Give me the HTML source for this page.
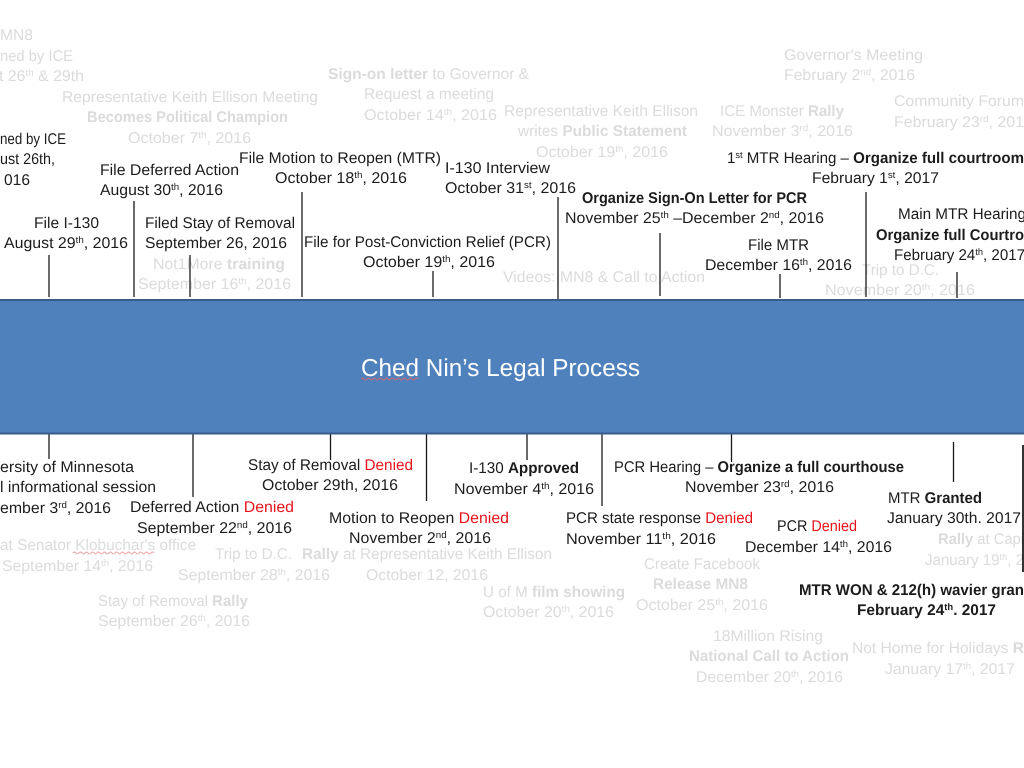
<!DOCTYPE html>
<html><head><meta charset="utf-8"><title>Ched Nin's Legal Process</title>
<style>
html,body{margin:0;padding:0;background:#fff;width:1024px;height:768px;overflow:hidden}
svg{display:block}
text{font-family:"Liberation Sans",sans-serif;font-size:15.5px;fill:#1c1c1c;white-space:pre;text-rendering:geometricPrecision}
.g,.g tspan{fill:#dbdbdb}
.b{font-weight:bold}
tspan.r{fill:#e8141c}
tspan.s{font-size:9.500px}
</style></head><body>
<svg width="1024" height="768" viewBox="0 0 1024 768" xmlns="http://www.w3.org/2000/svg">
<rect width="1024" height="768" fill="#fff"/>
<g class="g">
<text class="g" x="0" y="40" textLength="33" lengthAdjust="spacingAndGlyphs">MN8</text>
<text class="g" x="0" y="61" textLength="73" lengthAdjust="spacingAndGlyphs">ned by ICE</text>
<text class="g" x="-1" y="81" textLength="85" lengthAdjust="spacingAndGlyphs">t 26<tspan class="s" dy="-5">th</tspan><tspan dy="5"> &amp; 29th</tspan></text>
<text class="g" x="62" y="102" textLength="256" lengthAdjust="spacingAndGlyphs">Representative Keith Ellison Meeting</text>
<text class="g b" x="87" y="122" textLength="201" lengthAdjust="spacingAndGlyphs">Becomes Political Champion</text>
<text class="g" x="128" y="143" textLength="123" lengthAdjust="spacingAndGlyphs">October 7<tspan class="s" dy="-5">th</tspan><tspan dy="5">, 2016</tspan></text>
<text class="g" x="328" y="79" textLength="201" lengthAdjust="spacingAndGlyphs"><tspan class="b">Sign-on letter</tspan> to Governor &amp;</text>
<text class="g" x="364" y="99" textLength="130" lengthAdjust="spacingAndGlyphs">Request a meeting</text>
<text class="g" x="364" y="120" textLength="133" lengthAdjust="spacingAndGlyphs">October 14<tspan class="s" dy="-5">th</tspan><tspan dy="5">, 2016</tspan></text>
<text class="g" x="504" y="116" textLength="194" lengthAdjust="spacingAndGlyphs">Representative Keith Ellison</text>
<text class="g" x="518" y="136" textLength="169" lengthAdjust="spacingAndGlyphs">writes <tspan class="b">Public Statement</tspan></text>
<text class="g" x="536" y="157" textLength="132" lengthAdjust="spacingAndGlyphs">October 19<tspan class="s" dy="-5">th</tspan><tspan dy="5">, 2016</tspan></text>
<text class="g" x="720" y="116" textLength="124" lengthAdjust="spacingAndGlyphs">ICE Monster <tspan class="b">Rally</tspan></text>
<text class="g" x="712" y="136" textLength="141" lengthAdjust="spacingAndGlyphs">November 3<tspan class="s" dy="-5">rd</tspan><tspan dy="5">, 2016</tspan></text>
<text class="g" x="784" y="60" textLength="139" lengthAdjust="spacingAndGlyphs">Governor's Meeting</text>
<text class="g" x="784" y="80" textLength="131" lengthAdjust="spacingAndGlyphs">February 2<tspan class="s" dy="-5">nd</tspan><tspan dy="5">, 2016</tspan></text>
<text class="g" x="894" y="106" textLength="130" lengthAdjust="spacingAndGlyphs">Community Forum</text>
<text class="g" x="894" y="127" textLength="130" lengthAdjust="spacingAndGlyphs">February 23<tspan class="s" dy="-5">rd</tspan><tspan dy="5">, 201</tspan></text>
<text class="g" x="153" y="269" textLength="132" lengthAdjust="spacingAndGlyphs">Not1More <tspan class="b">training</tspan></text>
<text class="g" x="138" y="289" textLength="153" lengthAdjust="spacingAndGlyphs">September 16<tspan class="s" dy="-5">th</tspan><tspan dy="5">, 2016</tspan></text>
<text class="g" x="503" y="282" textLength="202" lengthAdjust="spacingAndGlyphs">Videos: MN8 &amp; Call to Action</text>
<text class="g" x="862" y="275" textLength="77" lengthAdjust="spacingAndGlyphs">Trip to D.C.</text>
<text class="g" x="825" y="295" textLength="150" lengthAdjust="spacingAndGlyphs">November 20<tspan class="s" dy="-5">th</tspan><tspan dy="5">, 2016</tspan></text>

<text class="g" x="0" y="550" textLength="196" lengthAdjust="spacingAndGlyphs">at Senator Klobuchar's office</text>
<text class="g" x="2" y="571" textLength="151" lengthAdjust="spacingAndGlyphs">September 14<tspan class="s" dy="-5">th</tspan><tspan dy="5">, 2016</tspan></text>
<text class="g" x="215" y="559" textLength="77" lengthAdjust="spacingAndGlyphs">Trip to D.C.</text>
<text class="g" x="302" y="559" textLength="250" lengthAdjust="spacingAndGlyphs"><tspan class="b">Rally</tspan> at Representative Keith Ellison</text>
<text class="g" x="178" y="580" textLength="152" lengthAdjust="spacingAndGlyphs">September 28<tspan class="s" dy="-5">th</tspan><tspan dy="5">, 2016</tspan></text>
<text class="g" x="366" y="580" textLength="122" lengthAdjust="spacingAndGlyphs">October 12, 2016</text>
<text class="g" x="98" y="606" textLength="150" lengthAdjust="spacingAndGlyphs">Stay of Removal <tspan class="b">Rally</tspan></text>
<text class="g" x="98" y="626" textLength="152" lengthAdjust="spacingAndGlyphs">September 26<tspan class="s" dy="-5">th</tspan><tspan dy="5">, 2016</tspan></text>
<text class="g" x="483" y="597" textLength="142" lengthAdjust="spacingAndGlyphs">U of M <tspan class="b">film showing</tspan></text>
<text class="g" x="483" y="617" textLength="131" lengthAdjust="spacingAndGlyphs">October 20<tspan class="s" dy="-5">th</tspan><tspan dy="5">, 2016</tspan></text>
<text class="g" x="644" y="569" textLength="116" lengthAdjust="spacingAndGlyphs">Create Facebook</text>
<text class="g b" x="653" y="589" textLength="95" lengthAdjust="spacingAndGlyphs">Release MN8</text>
<text class="g" x="636" y="610" textLength="132" lengthAdjust="spacingAndGlyphs">October 25<tspan class="s" dy="-5">th</tspan><tspan dy="5">, 2016</tspan></text>
<text class="g" x="713" y="641" textLength="110" lengthAdjust="spacingAndGlyphs">18Million Rising</text>
<text class="g b" x="689" y="661" textLength="160" lengthAdjust="spacingAndGlyphs">National Call to Action</text>
<text class="g" x="696" y="682" textLength="147" lengthAdjust="spacingAndGlyphs">December 20<tspan class="s" dy="-5">th</tspan><tspan dy="5">, 2016</tspan></text>
<text class="g" x="852" y="653" textLength="172" lengthAdjust="spacingAndGlyphs">Not Home for Holidays <tspan class="b">R</tspan></text>
<text class="g" x="885" y="674" textLength="130" lengthAdjust="spacingAndGlyphs">January 17<tspan class="s" dy="-5">th</tspan><tspan dy="5">, 2017</tspan></text>
<text class="g" x="938" y="544" textLength="86" lengthAdjust="spacingAndGlyphs"><tspan class="b">Rally</tspan> at Capi</text>
<text class="g" x="925" y="565" textLength="99" lengthAdjust="spacingAndGlyphs">January 19<tspan class="s" dy="-5">th</tspan><tspan dy="5">, 2</tspan></text>
</g>
<path d="M73 553q1.500 -2 3 0t3 0t3 0t3 0t3 0t3 0t3 0t3 0t3 0t3 0t3 0t3 0t3 0t3 0t3 0t3 0t3 0t3 0t3 0t3 0t3 0t3 0t3 0t3 0t3 0t3 0t3 0" fill="none" stroke="#eba0a0" stroke-width="1"/>

<g stroke="#1a1a1a" stroke-width="1.300" fill="none">
<path d="M49 255V297M134 201V297M190 255V297M302 192V297M433 271V297M558 197V300M660 233V296M780 274V298M866 192V297M957 272V298"/>
<path d="M49 434V459M193 434V497M330.500 434V460M426.500 431V501M527 434V460M602 434V506M731.500 434V462M953.500 442V482"/>
<path d="M1023 445V572" stroke-width="1.600" stroke="#000"/>
</g>

<rect x="-2" y="300" width="1028" height="133.500" fill="#4f81bd" stroke="#385d8a" stroke-width="2"/>
<text x="361" y="376" textLength="279" lengthAdjust="spacingAndGlyphs" style="font-size:24.500px;fill:#fff">Ched Nin’s Legal Process</text>
<path d="M361 379q1.500 -2 3 0t3 0t3 0t3 0t3 0t3 0t3 0t3 0t3 0t3 0t3 0t3 0t3 0t3 0t3 0t3 0t3 0t3 0t3 0" fill="none" stroke="#d8686e" stroke-width="1"/>

<text x="0" y="144" textLength="66" lengthAdjust="spacingAndGlyphs">ned by ICE</text>
<text x="0" y="164" textLength="55" lengthAdjust="spacingAndGlyphs">ust 26th,</text>
<text x="4" y="185" textLength="26" lengthAdjust="spacingAndGlyphs">016</text>
<text x="100" y="175" textLength="139" lengthAdjust="spacingAndGlyphs">File Deferred Action</text>
<text x="100" y="195" textLength="123" lengthAdjust="spacingAndGlyphs">August 30<tspan class="s" dy="-5">th</tspan><tspan dy="5">, 2016</tspan></text>
<text x="239" y="163" textLength="202" lengthAdjust="spacingAndGlyphs">File Motion to Reopen (MTR)</text>
<text x="275" y="183" textLength="132" lengthAdjust="spacingAndGlyphs">October 18<tspan class="s" dy="-5">th</tspan><tspan dy="5">, 2016</tspan></text>
<text x="445" y="173" textLength="105" lengthAdjust="spacingAndGlyphs">I-130 Interview</text>
<text x="445" y="193" textLength="131" lengthAdjust="spacingAndGlyphs">October 31<tspan class="s" dy="-5">st</tspan><tspan dy="5">, 2016</tspan></text>
<text x="34" y="228" textLength="65" lengthAdjust="spacingAndGlyphs">File I-130</text>
<text x="4" y="248" textLength="124" lengthAdjust="spacingAndGlyphs">August 29<tspan class="s" dy="-5">th</tspan><tspan dy="5">, 2016</tspan></text>
<text x="145" y="228" textLength="150" lengthAdjust="spacingAndGlyphs">Filed Stay of Removal</text>
<text x="145" y="248" textLength="142" lengthAdjust="spacingAndGlyphs">September 26, 2016</text>
<text x="304" y="247" textLength="247" lengthAdjust="spacingAndGlyphs">File for Post-Conviction Relief (PCR)</text>
<text x="363" y="267" textLength="132" lengthAdjust="spacingAndGlyphs">October 19<tspan class="s" dy="-5">th</tspan><tspan dy="5">, 2016</tspan></text>
<text class="b" x="582" y="203" textLength="225" lengthAdjust="spacingAndGlyphs">Organize Sign-On Letter for PCR</text>
<text x="565" y="223" textLength="259" lengthAdjust="spacingAndGlyphs">November 25<tspan class="s" dy="-5">th</tspan><tspan dy="5"> –December 2</tspan><tspan class="s" dy="-5">nd</tspan><tspan dy="5">, 2016</tspan></text>
<text x="727" y="163" textLength="297" lengthAdjust="spacingAndGlyphs">1<tspan class="s" dy="-5">st</tspan><tspan dy="5"> MTR Hearing – </tspan><tspan class="b">Organize full courtroom</tspan></text>
<text x="812" y="183" textLength="127" lengthAdjust="spacingAndGlyphs">February 1<tspan class="s" dy="-5">st</tspan><tspan dy="5">, 2017</tspan></text>
<text x="748" y="250" textLength="61" lengthAdjust="spacingAndGlyphs">File MTR</text>
<text x="705" y="270" textLength="147" lengthAdjust="spacingAndGlyphs">December 16<tspan class="s" dy="-5">th</tspan><tspan dy="5">, 2016</tspan></text>
<text x="898" y="219" textLength="128" lengthAdjust="spacingAndGlyphs">Main MTR Hearing</text>
<text class="b" x="876" y="240" textLength="148" lengthAdjust="spacingAndGlyphs">Organize full Courtro</text>
<text x="894" y="260" textLength="131" lengthAdjust="spacingAndGlyphs">February 24<tspan class="s" dy="-5">th</tspan><tspan dy="5">, 2017</tspan></text>

<text x="0" y="472" textLength="134" lengthAdjust="spacingAndGlyphs">ersity of Minnesota</text>
<text x="0" y="492" textLength="156" lengthAdjust="spacingAndGlyphs">l informational session</text>
<text x="0" y="513" textLength="111" lengthAdjust="spacingAndGlyphs">ember 3<tspan class="s" dy="-5">rd</tspan><tspan dy="5">, 2016</tspan></text>
<text x="130" y="512" textLength="164" lengthAdjust="spacingAndGlyphs">Deferred Action <tspan class="r">Denied</tspan></text>
<text x="137" y="533" textLength="155" lengthAdjust="spacingAndGlyphs">September 22<tspan class="s" dy="-5">nd</tspan><tspan dy="5">, 2016</tspan></text>
<text x="248" y="470" textLength="165" lengthAdjust="spacingAndGlyphs">Stay of Removal <tspan class="r">Denied</tspan></text>
<text x="262" y="490" textLength="136" lengthAdjust="spacingAndGlyphs">October 29th, 2016</text>
<text x="329" y="523" textLength="180" lengthAdjust="spacingAndGlyphs">Motion to Reopen <tspan class="r">Denied</tspan></text>
<text x="349" y="543" textLength="142" lengthAdjust="spacingAndGlyphs">November 2<tspan class="s" dy="-5">nd</tspan><tspan dy="5">, 2016</tspan></text>
<text x="469" y="473" textLength="110" lengthAdjust="spacingAndGlyphs">I-130 <tspan class="b">Approved</tspan></text>
<text x="454" y="494" textLength="140" lengthAdjust="spacingAndGlyphs">November 4<tspan class="s" dy="-5">th</tspan><tspan dy="5">, 2016</tspan></text>
<text x="614" y="472" textLength="290" lengthAdjust="spacingAndGlyphs">PCR Hearing – <tspan class="b">Organize a full courthouse</tspan></text>
<text x="685" y="492" textLength="149" lengthAdjust="spacingAndGlyphs">November 23<tspan class="s" dy="-5">rd</tspan><tspan dy="5">, 2016</tspan></text>
<text x="566" y="523" textLength="187" lengthAdjust="spacingAndGlyphs">PCR state response <tspan class="r">Denied</tspan></text>
<text x="566" y="544" textLength="150" lengthAdjust="spacingAndGlyphs">November 11<tspan class="s" dy="-5">th</tspan><tspan dy="5">, 2016</tspan></text>
<text x="777" y="531" textLength="80" lengthAdjust="spacingAndGlyphs">PCR <tspan class="r">Denied</tspan></text>
<text x="745" y="552" textLength="147" lengthAdjust="spacingAndGlyphs">December 14<tspan class="s" dy="-5">th</tspan><tspan dy="5">, 2016</tspan></text>
<text x="888" y="503" textLength="94" lengthAdjust="spacingAndGlyphs">MTR <tspan class="b">Granted</tspan></text>
<text x="887" y="523" textLength="134" lengthAdjust="spacingAndGlyphs">January 30th. 2017</text>
<text class="b" x="799" y="595" textLength="225" lengthAdjust="spacingAndGlyphs">MTR WON &amp; 212(h) wavier gran</text>
<text class="b" x="857" y="615" textLength="139" lengthAdjust="spacingAndGlyphs">February 24<tspan class="s" dy="-5">th</tspan><tspan dy="5">. 2017</tspan></text>
</svg>
</body></html>
